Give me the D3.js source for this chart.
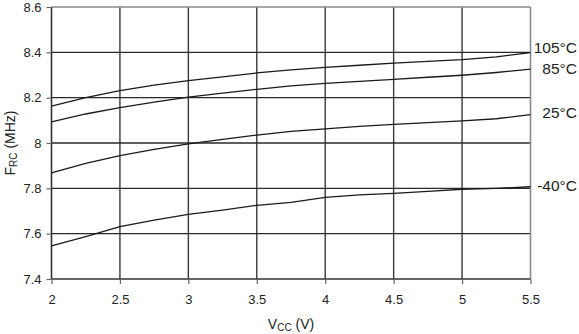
<!DOCTYPE html>
<html><head><meta charset="utf-8">
<script src="https://cdn.jsdelivr.net/npm/d3@7"></script>
<style>body{margin:0;background:#fff}svg{display:block;font-family:"Liberation Sans",Arial,sans-serif}</style>
</head><body><svg id="c" width="579" height="334"></svg>
<script>
const vcc = [2,2.25,2.5,2.75,3,3.25,3.5,3.75,4,4.25,4.5,4.75,5,5.25,5.5];
const t105 = [8.163,8.200,8.231,8.255,8.275,8.292,8.309,8.323,8.334,8.343,8.352,8.360,8.368,8.380,8.399];
const t85  = [8.093,8.128,8.156,8.180,8.202,8.220,8.237,8.252,8.263,8.272,8.281,8.290,8.299,8.311,8.326];
const t25  = [7.868,7.910,7.944,7.972,7.996,8.016,8.035,8.051,8.062,8.073,8.082,8.090,8.098,8.107,8.125];
const tm40 = [7.546,7.587,7.631,7.660,7.685,7.704,7.725,7.738,7.760,7.771,7.778,7.787,7.796,7.800,7.807];
const seriesNames = ["105°C","85°C","25°C","-40°C"];
const xTicks = [2,2.5,3,3.5,4,4.5,5,5.5];
const yTicks = [7.4,7.6,7.8,8,8.2,8.4,8.6];

const svg = d3.select("#c");
const L=51.5, R=530.5, T=7, B=279;
const x = d3.scaleLinear().domain([2,5.5]).range([L,R]);
const y = d3.scaleLinear().domain([7.4,8.6]).range([B,T]);

// grid
svg.append("g").selectAll("line").data(xTicks.slice(1,-1)).join("line")
  .attr("x1",d=>x(d)).attr("x2",d=>x(d)).attr("y1",T).attr("y2",B)
  .attr("stroke","#3a3a3a").attr("stroke-width",1.4);
svg.append("g").selectAll("line").data(yTicks.slice(1,-1)).join("line")
  .attr("x1",L).attr("x2",R).attr("y1",d=>y(d)).attr("y2",d=>y(d))
  .attr("stroke","#2a2a2a").attr("stroke-width",1.4);
// top/right border
svg.append("line").attr("x1",L).attr("x2",R).attr("y1",T).attr("y2",T).attr("stroke","#8a8a8a").attr("stroke-width",1.6);
svg.append("line").attr("x1",R).attr("x2",R).attr("y1",T).attr("y2",B).attr("stroke","#8a8a8a").attr("stroke-width",1.6);

// axes
const xAxis = svg.append("g").attr("transform",`translate(0,${B})`)
  .call(d3.axisBottom(x).tickValues(xTicks).tickSize(5).tickPadding(11).tickFormat(d3.format("")));
const yAxis = svg.append("g").attr("transform",`translate(${L},0)`)
  .call(d3.axisLeft(y).tickValues(yTicks).tickSize(5).tickPadding(5).tickFormat(d3.format("")));
[xAxis,yAxis].forEach(a=>{
  a.select(".domain").attr("stroke","#333").attr("stroke-width",1.6);
  a.selectAll(".tick line").attr("stroke","#666").attr("stroke-width",1.2);
  a.selectAll("text").attr("font-size",13).attr("fill","#222").attr("font-family","Liberation Sans, Arial, sans-serif");
});
xAxis.select(".domain").attr("d",`M${L},0H${R}`);
yAxis.select(".domain").attr("d",`M0,${T}V${B}`);

// lines
const all = [t105,t85,t25,tm40];
const line = d3.line().x((d,i)=>x(vcc[i])).y(d=>y(d));
svg.append("g").selectAll("path").data(all).join("path")
  .attr("d",d=>line(d)).attr("fill","none").attr("stroke","#1a1a1a").attr("stroke-width",1.3);

// series labels
const labelY = [47.5,69,112.5,186];
svg.append("g").selectAll("text").data(seriesNames).join("text")
  .attr("x",577).attr("y",(d,i)=>labelY[i]).attr("dy","0.35em").attr("text-anchor","end")
  .attr("font-size",15.5).attr("fill","#222").text(d=>d);

// axis titles
const xt = svg.append("text").attr("x",(L+R)/2).attr("y",329).attr("text-anchor","middle").attr("font-size",14).attr("fill","#222");
xt.append("tspan").text("V");
xt.append("tspan").attr("font-size",10).attr("dy",2).text("CC");
xt.append("tspan").attr("dy",-2).text(" (V)");
const yt = svg.append("text").attr("transform",`translate(15,143) rotate(-90)`).attr("text-anchor","middle").attr("font-size",14).attr("fill","#222");
yt.append("tspan").text("F");
yt.append("tspan").attr("font-size",10).attr("dy",2).text("RC");
yt.append("tspan").attr("dy",-2).text(" (MHz)");
</script></body></html>
